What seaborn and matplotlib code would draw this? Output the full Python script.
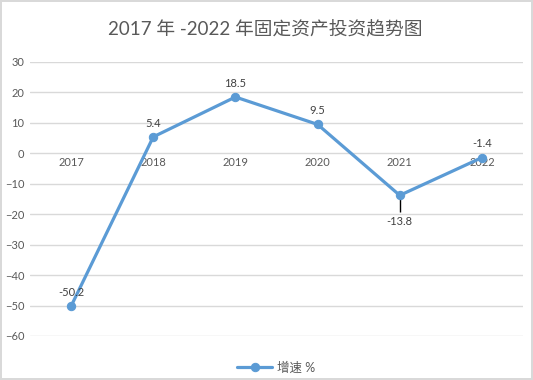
import matplotlib
matplotlib.use("Agg")
import matplotlib.pyplot as plt
import seaborn as sns
import pandas as pd

years = ["2017", "2018", "2019", "2020", "2021", "2022"]
growth = [-50.2, 5.4, 18.5, 9.5, -13.8, -1.4]
label_below = [False, False, False, False, True, False]
yticks = [30, 20, 10, 0, -10, -20, -30, -40, -50, -60]
title = "2017 年 -2022 年固定资产投资趋势图"
series_name = "增速 %"

sns.set_theme(style="white")
plt.rcParams['font.family'] = ['Lato', 'Noto Sans CJK SC', 'DejaVu Sans']

df = pd.DataFrame({"year": years, "value": growth})

fig = plt.figure(figsize=(5.33, 3.8), dpi=100)
fig.patch.set_edgecolor("#D9D9D9")
fig.patch.set_linewidth(1.5)
ax = fig.add_axes([30/533, 1-336/380, (523-30)/533, (336-62)/380])

blue = "#5B9BD5"
sns.lineplot(data=df, x="year", y="value", ax=ax, color=blue, linewidth=2.3,
             marker="o", markersize=6, markeredgecolor=blue, label=series_name, sort=False)

ax.set_ylim(-60, 30)
ax.set_xlim(-0.5, 5.5)
ax.set_yticks(yticks)
ax.yaxis.grid(True, color="#D9D9D9", linewidth=1)
ax.set_axisbelow(True)
for s in ax.spines.values():
    s.set_visible(False)
ax.spines['bottom'].set_position(('data', 0))
ax.tick_params(axis='x', length=0, pad=3, labelsize=8, labelcolor="#595959")
ax.tick_params(axis='y', length=0, pad=4, labelsize=8, labelcolor="#595959")
ax.set_xlabel("")
ax.set_ylabel("")

for i, (v, below) in enumerate(zip(growth, label_below)):
    if below:
        ax.vlines(i, v - 5.5, v + 1.5, color="black", linewidth=1, zorder=1)
        ax.annotate(f"{v}", (i, v), xytext=(0, -19), textcoords="offset points",
                    ha="center", va="center", fontsize=8, color="#404040")
    else:
        ax.annotate(f"{v}", (i, v), xytext=(0, 10), textcoords="offset points",
                    ha="center", va="center", fontsize=8, color="#404040")

fig.text(265/533, 1-30/380, title, ha="center", va="center", fontsize=13.5, color="#595959")

ax.legend(loc="center", bbox_to_anchor=(0.5, -0.115), frameon=False, fontsize=9,
          handlelength=2.8, handletextpad=0.4, labelcolor="#595959")

fig.savefig("out.png", dpi=100, edgecolor=fig.get_edgecolor())
